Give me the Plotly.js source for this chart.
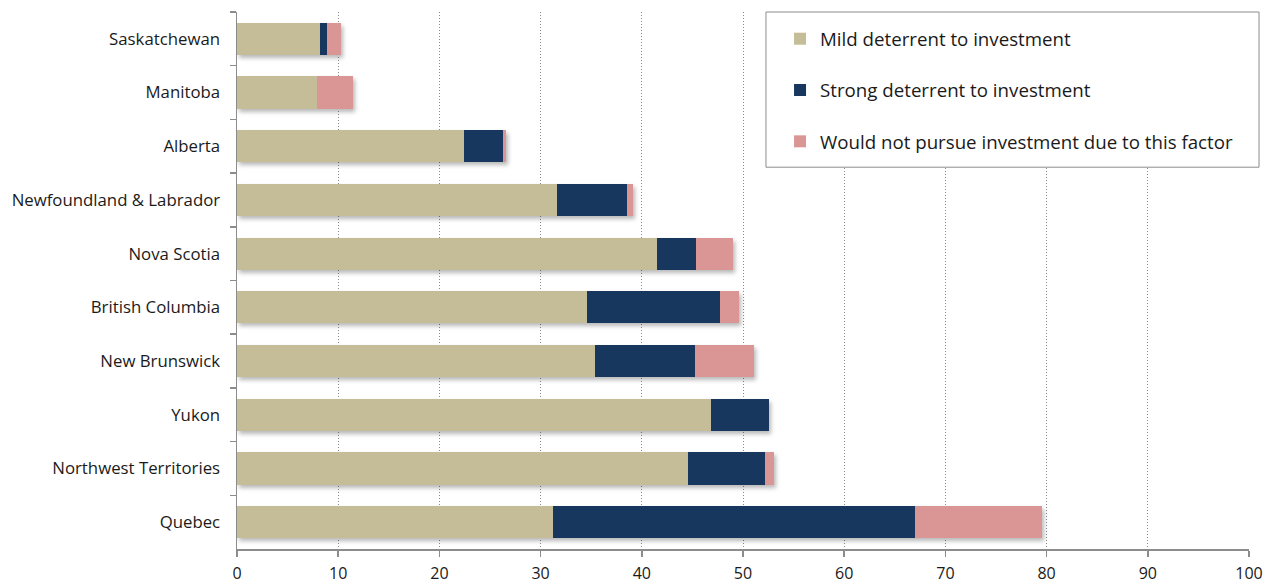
<!DOCTYPE html>
<html>
<head>
<meta charset="utf-8">
<script src="https://cdn.plot.ly/plotly-3.0.1.min.js"></script>
<style>
  html, body { margin: 0; padding: 0; background: #ffffff; }
  #chart { width: 1266px; height: 584px; }
  /* soft drop shadow under the stacked bars */
  #chart .barlayer { filter: drop-shadow(2px 3px 2px rgba(0, 0, 0, 0.28)); }
</style>
</head>
<body>
<div id="chart"></div>
<script>
// Provinces and territories, listed top to bottom
const regions = [
  "Saskatchewan", "Manitoba", "Alberta", "Newfoundland & Labrador", "Nova Scotia",
  "British Columbia", "New Brunswick", "Yukon", "Northwest Territories", "Quebec"
];

// Share of respondents (%) by level of deterrence
const mildDeterrent   = [8.2, 7.9, 22.4, 31.6, 41.5, 34.6, 35.4, 46.8, 44.6, 31.2];
const strongDeterrent = [0.7, 0.0,  3.9,  6.9,  3.9, 13.1,  9.9,  5.8,  7.6, 35.8];
const wouldNotPursue  = [1.4, 3.6,  0.3,  0.6,  3.6,  1.9,  5.8,  0.0,  0.9, 12.5];

const seriesNames = [
  "Mild deterrent to investment",
  "Strong deterrent to investment",
  "Would not pursue investment due to this factor"
];
const seriesColors = ["#C4BD97", "#17375E", "#D99694"];
const seriesValues = [mildDeterrent, strongDeterrent, wouldNotPursue];

const xTicks = [0, 10, 20, 30, 40, 50, 60, 70, 80, 90, 100];

const traces = seriesValues.map((vals, i) => ({
  type: "bar",
  orientation: "h",
  name: seriesNames[i],
  legendgroup: "g" + i,
  x: vals,
  y: regions,
  width: 0.6,
  marker: { color: seriesColors[i], line: { width: 0 } },
  hoverinfo: "x+y+name"
}));

const axisGray = "#8c8c8c";

const layout = {
  width: 1266,
  height: 584,
  margin: { l: 237, r: 17, t: 12, b: 35 },
  paper_bgcolor: "#ffffff",
  plot_bgcolor: "#ffffff",
  barmode: "stack",
  showlegend: true,
  font: { family: "Open Sans, Noto Sans, sans-serif", color: "#1a1a1a", size: 16 },
  xaxis: {
    range: [0, 100],
    tickvals: xTicks,
    ticktext: xTicks.map(String),
    ticks: "outside",
    ticklen: 6,
    tickcolor: axisGray,
    tickwidth: 1.5,
    showline: true,
    linecolor: axisGray,
    linewidth: 1.5,
    showgrid: true,
    gridcolor: "#8a8a8a",
    gridwidth: 1,
    griddash: "1px,2px",
    zeroline: false,
    automargin: false,
    ticklabelstandoff: 3,
    tickfont: { size: 16, color: "#1a1a1a" },
    fixedrange: true
  },
  yaxis: {
    type: "category",
    categoryorder: "array",
    categoryarray: regions,
    autorange: "reversed",
    ticks: "outside",
    tickson: "boundaries",
    ticklen: 6,
    tickcolor: axisGray,
    tickwidth: 1.5,
    showline: true,
    linecolor: axisGray,
    linewidth: 1.5,
    showgrid: false,
    zeroline: false,
    automargin: false,
    ticklabelstandoff: 12,
    tickfont: { size: 16.8, color: "#1a1a1a" },
    fixedrange: true
  },
  legend: {
    x: 0.5366,
    y: 0.985,
    xanchor: "left",
    yanchor: "top",
    bgcolor: "rgba(0,0,0,0)",
    borderwidth: 0,
    traceorder: "grouped",
    tracegroupgap: 24,
    font: { size: 18.7, color: "#1a1a1a" },
    itemclick: false,
    itemdoubleclick: false
  },
  shapes: [{
    type: "rect",
    xref: "paper", yref: "paper",
    x0: 0.5227, x1: 1.0099,
    y0: 0.711, y1: 1.0,
    fillcolor: "#ffffff",
    line: { color: "#8c8c8c", width: 1 },
    layer: "above"
  }]
};

Plotly.newPlot("chart", traces, layout, { displayModeBar: false, staticPlot: true });
</script>
</body>
</html>
